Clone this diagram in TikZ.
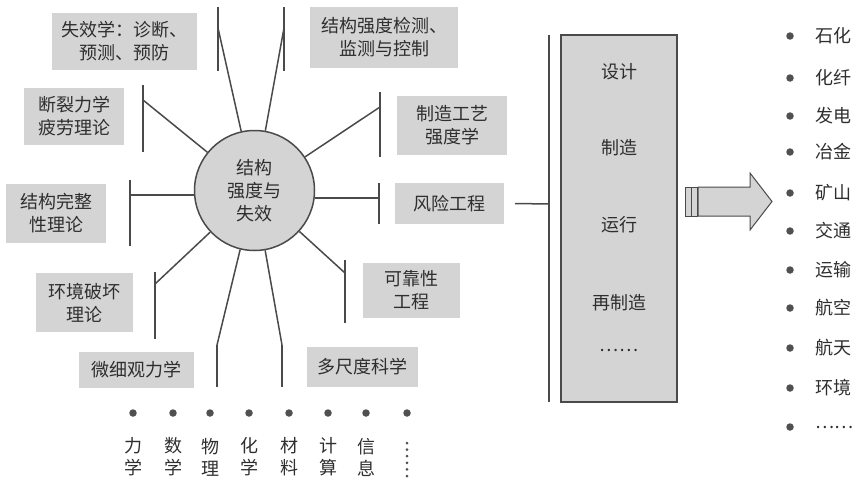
\documentclass[tikz,border=0pt]{standalone}
\usepackage{fontspec}
\setmainfont{Noto Sans CJK SC}
\definecolor{lc}{HTML}{4A4A4A}
\definecolor{bf}{HTML}{D4D4D4}
\definecolor{tc}{HTML}{2E2E2E}
\definecolor{dc}{HTML}{505050}
\begin{document}
\begin{tikzpicture}[x=1pt,y=-1pt,
  ln/.style={draw=lc, line width=1.5pt},
  tbox/.style={fill=bf, text=tc, inner sep=0pt, align=center, font=\fontsize{18}{23}\selectfont},
  lbl/.style={text=tc, inner sep=0pt, align=center, font=\fontsize{18}{22}\selectfont},
  dotn/.style={circle, fill=dc, inner sep=0pt, minimum size=7.5pt},
  sdot/.style={circle, fill=dc, inner sep=0pt, minimum size=3pt}]
\useasboundingbox (0,0) rectangle (858,482);

% centre circle
\node[circle, draw=lc, line width=1.5pt, fill=bf, minimum size=120pt, inner sep=0pt,
      align=center, text=tc, font=\fontsize{18}{23}\selectfont] (c) at (254.5,190.5) {结构\\强度与\\失效};

% boxes
\node[tbox, minimum width=145pt, minimum height=57pt] (b1) at (124.5,41.5) {失效学：诊断、\\预测、预防};
\node[tbox, minimum width=148pt, minimum height=61pt] (b2) at (384,37.5) {结构强度检测、\\监测与控制};
\node[tbox, minimum width=100pt, minimum height=57pt] (b3) at (74,116.5) {断裂力学\\疲劳理论};
\node[tbox, minimum width=110pt, minimum height=59pt] (b4) at (452,125.5) {制造工艺\\强度学};
\node[tbox, minimum width=100pt, minimum height=59pt] (b5) at (56,213.5) {结构完整\\性理论};
\node[tbox, minimum width=109pt, minimum height=41pt] (b6) at (449.5,203.5) {风险工程};
\node[tbox, minimum width=97pt, minimum height=59pt] (b7) at (84.5,302.5) {环境破坏\\理论};
\node[tbox, minimum width=97pt, minimum height=55pt] (b8) at (411.5,290.5) {可靠性\\工程};
\node[tbox, minimum width=115pt, minimum height=36pt] (b9) at (136.5,370) {微细观力学};
\node[tbox, minimum width=111pt, minimum height=40pt] (b10) at (362.5,367) {多尺度科学};

% T-bars and spokes
\coordinate (t1a) at (218,7);   \coordinate (t1b) at (218,71);  \coordinate (j1) at (218,28);
\coordinate (t2a) at (284,7);   \coordinate (t2b) at (284,71);  \coordinate (j2) at (284,28);
\coordinate (t3a) at (143,85);  \coordinate (t3b) at (143,152); \coordinate (j3) at (143,100);
\coordinate (t4a) at (380,92);  \coordinate (t4b) at (380,157); \coordinate (j4) at (380,107);
\coordinate (t5a) at (130,180); \coordinate (t5b) at (130,246); \coordinate (j5) at (130,195);
\coordinate (t6a) at (379,183); \coordinate (t6b) at (379,224); \coordinate (j6) at (379,198);
\coordinate (t7a) at (155,272); \coordinate (t7b) at (155,339); \coordinate (j7) at (155,284);
\coordinate (t8a) at (345,260); \coordinate (t8b) at (345,323); \coordinate (j8) at (345,273);
\coordinate (t9a) at (217,345); \coordinate (t9b) at (217,387); \coordinate (j9) at (217,345);
\coordinate (t10a) at (282,345); \coordinate (t10b) at (282,387); \coordinate (j10) at (282,345);
\foreach \i in {1,...,10} {\draw[ln] (t\i a) -- (t\i b);}
\draw[ln] (c) -- (j1);
\draw[ln] (c) -- (j2);
\draw[ln] (c) -- (j3);
\draw[ln] (c) -- (j4);
\draw[ln] (j5 -| c.west) -- (j5);
\draw[ln] (j6 -| c.east) -- (j6);
\draw[ln] (c) -- (j7);
\draw[ln] (c) -- (j8);
\draw[ln] (c) -- (j9);
\draw[ln] (c) -- (j10);

% disciplines
\foreach \x/\t [count=\k] in {133/力\\学, 173/数\\学, 210/物\\理, 249/化\\学, 289/材\\料, 328/计\\算, 366/信\\息} {
  \node[dotn] (d\k) at (\x,413) {};
  \node[lbl] (s\k) at (\x,457) {\t};
}
\node[dotn] (d8) at (407,413) {};
\foreach \i in {0,...,5} {\node[sdot] (v\i) at (407,443+6.6*\i) {};}

% bracket and big box
\coordinate (bka) at (549,35);
\coordinate (bkb) at (549,402);
\coordinate (brk) at (549,204);
\draw[ln] (bka) -- (bkb);
\draw[ln] ([xshift=11pt]b6.east) -- (brk);
\node[draw=lc, line width=1.5pt, fill=bf, minimum width=116pt, minimum height=367pt, inner sep=0pt] (big) at (619,218.5) {};
\node[lbl] (p1) at (619,72) {设计};
\node[lbl] (p2) at (619,148) {制造};
\node[lbl] (p3) at (619,225) {运行};
\node[lbl] (p4) at (619,303) {再制造};
\node[lbl] (p5) at (619,350) {……};

% block arrow
\draw[draw=lc, line width=1pt, fill=bf] (685,187) rectangle (691,216);
\draw[draw=lc, line width=1pt, fill=bf] (691,187) rectangle (697,216);
\draw[draw=lc, line width=1pt, fill=bf] (698,187) -- (750,187) -- (750,173) -- (772,201.5) -- (750,230) -- (750,216) -- (698,216) -- cycle;

% industries
\foreach \y/\t [count=\k] in {36/石化, 78/化纤, 116/发电, 152/冶金, 193/矿山, 231/交通, 270/运输, 308/航空, 348/航天, 388/环境, 427/……} {
  \node[dotn] (r\k) at (790,\y) {};
  \node[lbl, anchor=west] (q\k) at (815,\y) {\t};
}
\end{tikzpicture}
\end{document}
